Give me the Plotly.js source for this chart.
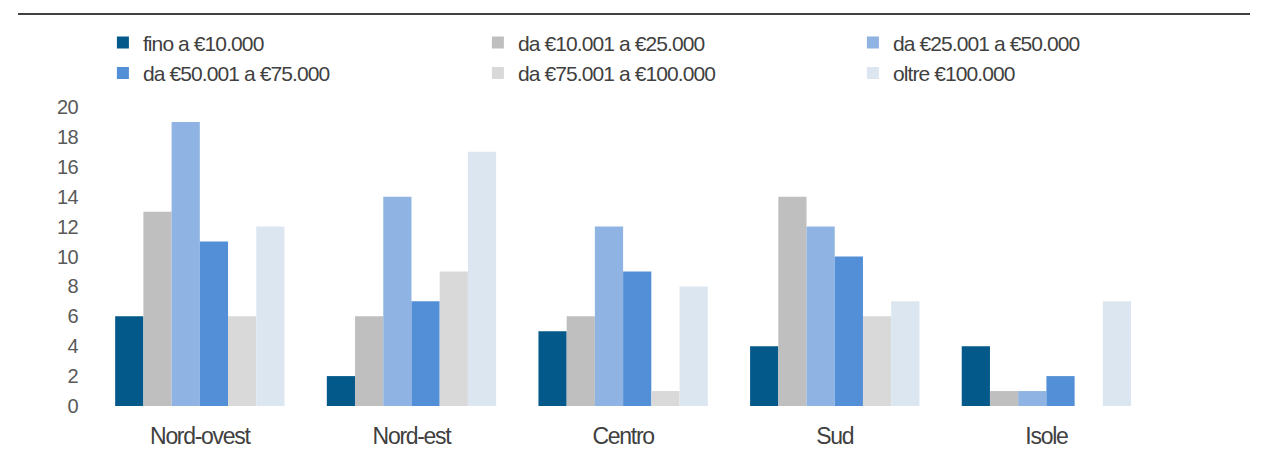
<!DOCTYPE html>
<html><head><meta charset="utf-8">
<script src="https://cdn.plot.ly/plotly-3.0.1.min.js"></script>
<style>
html,body{margin:0;padding:0;background:#fff}#chart{width:1263px;height:474px}
#chart text.legendtext{letter-spacing:-0.9px !important}
#chart .xtick text{letter-spacing:-1.3px !important}
#chart .ytick text{letter-spacing:-0.6px !important}
</style>
</head><body><div id="chart"></div>
<script>
const categories = ["Nord-ovest","Nord-est","Centro","Sud","Isole"];
const seriesNames = ["fino a €10.000","da €10.001 a €25.000","da €25.001 a €50.000","da €50.001 a €75.000","da €75.001 a €100.000","oltre €100.000"];
const fino10 = [6,2,5,4,4];
const da10a25 = [13,6,6,14,1];
const da25a50 = [19,14,12,12,1];
const da50a75 = [11,7,9,10,2];
const da75a100 = [6,9,1,6,0];
const oltre100 = [12,17,8,7,7];
const yTicks = [0,2,4,6,8,10,12,14,16,18,20];
const colors = ["#02598A","#BFBFBF","#8FB4E3","#538FD6","#D9D9D9","#DCE6F1"];
const allSeries = [fino10,da10a25,da25a50,da50a75,da75a100,oltre100];
const FONT = "'Liberation Sans',Arial,sans-serif";
const traces = allSeries.map((v,i)=>({
  type:'bar', name:seriesNames[i], x:categories, y:v,
  marker:{color:colors[i], line:{width:0}}, hoverinfo:'none'
}));
const layout = {
  width:1263, height:474,
  margin:{l:94,r:13,t:104,b:68},
  paper_bgcolor:'#fff', plot_bgcolor:'#fff',
  barmode:'group', bargap:0.2, bargroupgap:0,
  font:{family:FONT, size:17, color:'#595959'},
  xaxis:{range:[-0.5,4.962], showgrid:false, zeroline:false, showline:false, ticks:'', ticklabelstandoff:14,
         tickfont:{family:FONT,size:23,color:'#404040'}},
  yaxis:{range:[0,20.2], tickvals:yTicks, showgrid:false, zeroline:false, showline:false, ticks:'',
         ticklabelstandoff:15, tickfont:{family:FONT,size:20,color:'#595959'}},
  showlegend:true,
  legend:{orientation:'h', x:0.0077, y:1.27, xanchor:'left', yanchor:'top',
          entrywidth:330, entrywidthmode:'pixels', traceorder:'normal',
          font:{family:FONT,size:21,color:'#404040'}, itemwidth:30, tracegroupgap:0},
  shapes:[{type:'line', xref:'paper', yref:'paper', x0:-0.0657, x1:1.0, y0:1.298, y1:1.298,
           line:{color:'#000', width:1.5}}]
};
Plotly.newPlot('chart', traces, layout, {staticPlot:true});
</script></body></html>
